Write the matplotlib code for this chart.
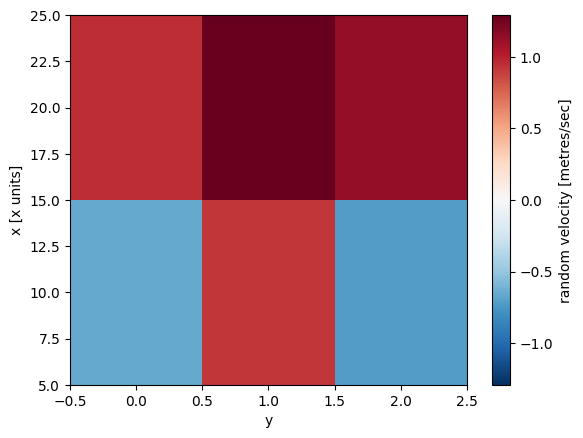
import numpy as np
import matplotlib
matplotlib.use("Agg")
import matplotlib.pyplot as plt

y_vals = [0, 1, 2]
x_vals = [10, 20]
velocity = [
    [-0.66, 0.92, -0.72],   # x = 10
    [0.95, 1.29, 1.13],     # x = 20
]

data = np.array(velocity)
vmax = np.abs(data).max()

def edges(c):
    c = np.asarray(c, dtype=float)
    mid = (c[:-1] + c[1:]) / 2
    return np.concatenate([[c[0] - (mid[0] - c[0])], mid, [c[-1] + (c[-1] - mid[-1])]])

fig, ax = plt.subplots(figsize=(6.4, 4.8), dpi=100)
mesh = ax.pcolormesh(edges(y_vals), edges(x_vals), data, cmap="RdBu_r", vmin=-vmax, vmax=vmax)
ax.set_xlabel("y")
ax.set_ylabel("x [x units]")
cb = fig.colorbar(mesh, ax=ax)
cb.set_label("random velocity [metres/sec]")
fig.savefig("out.png", bbox_inches="tight")
